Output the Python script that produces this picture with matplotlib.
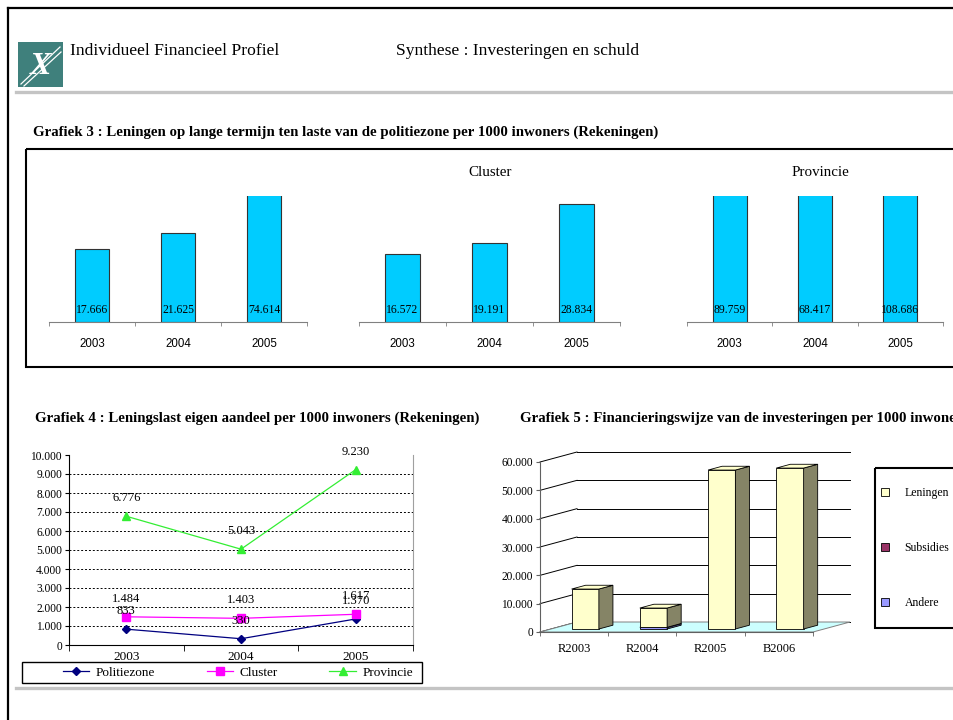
import matplotlib
matplotlib.use("Agg")
import matplotlib.pyplot as plt
from matplotlib.patches import Rectangle, Polygon, Patch
from matplotlib.ticker import FuncFormatter

W, H = 954, 720
SERIF = "Liberation Serif"
SANS = "Liberation Sans"

# --- data ---
years = ["2003", "2004", "2005"]
g3_politiezone = [17666, 21625, 74614]
g3_cluster = [16572, 19191, 28834]
g3_provincie = [89759, 68417, 108686]

g4_politiezone = [833, 330, 1370]
g4_cluster = [1484, 1403, 1617]
g4_provincie = [6776, 5043, 9230]

g5_cats = ["R2003", "R2004", "R2005", "B2006"]
g5_andere = [0, 600, 0, 0]
g5_subsidies = [0, 0, 0, 0]
g5_leningen = [14100, 6800, 56100, 56800]


def nl(v):
    return f"{int(round(v)):,}".replace(",", ".")


def px_rect(l, t, r, b):
    return [l / W, 1 - b / H, (r - l) / W, (b - t) / H]


fig = plt.figure(figsize=(W / 100, H / 100), dpi=100)
fig.patch.set_facecolor("white")

# background layer in pixel coordinates
bg = fig.add_axes([0, 0, 1, 1])
bg.set_xlim(0, W)
bg.set_ylim(H, 0)
bg.axis("off")

bg.plot([8, W], [8, 8], color="black", lw=1.6)
bg.plot([8, 8], [8, H], color="black", lw=1.6)
bg.plot([16, W], [92, 92], color="#c4c4c4", lw=2.4)
bg.plot([16, W], [688, 688], color="#c4c4c4", lw=2.4)

# logo
bg.add_patch(Rectangle((18, 42), 45, 45, fc="#3f807c", ec="none"))
bg.plot([21, 60], [84, 47], color="white", lw=0.9)
bg.plot([24, 61], [86, 52], color="white", lw=0.9)
bg.text(41, 67, "X", color="white", fontsize=23, fontweight="bold",
        family=SERIF, ha="center", va="center", style="italic")

bg.text(70, 51, "Individueel Financieel Profiel", family=SERIF, fontsize=12.6,
        ha="left", va="center")
bg.text(396, 51, "Synthese : Investeringen en schuld", family=SERIF, fontsize=12.6,
        ha="left", va="center")

bg.text(33, 132, "Grafiek 3 : Leningen op lange termijn ten laste van de politiezone per 1000 inwoners (Rekeningen)",
        family=SERIF, fontsize=10.7, fontweight="bold", ha="left", va="center")
bg.text(35, 418, "Grafiek 4 : Leningslast eigen aandeel per 1000 inwoners (Rekeningen)",
        family=SERIF, fontsize=10.7, fontweight="bold", ha="left", va="center")
bg.text(520, 418, "Grafiek 5 : Financieringswijze van de investeringen per 1000 inwoners (Rekeningen)",
        family=SERIF, fontsize=10.7, fontweight="bold", ha="left", va="center")

bg.add_patch(Rectangle((26, 149), 960 - 26, 367 - 149, fc="none", ec="black", lw=1.5))
bg.add_patch(Rectangle((22, 662), 400, 21, fc="none", ec="black", lw=1.0))
bg.add_patch(Rectangle((875, 468), 120, 160, fc="none", ec="black", lw=1.5))

bg.text(490, 173, "Cluster", family=SERIF, fontsize=10.8, ha="center", va="center")
bg.text(820, 173, "Provincie", family=SERIF, fontsize=10.8, ha="center", va="center")

# --- Grafiek 3 ---
panels = [((49, 307), g3_politiezone), ((359, 620), g3_cluster), ((687, 943), g3_provincie)]
for (l, r), vals in panels:
    ax = fig.add_axes(px_rect(l, 196, r, 322))
    ax.set_xlim(-0.5, 2.5)
    ax.set_ylim(0, 30700)
    xs = range(len(vals))
    ax.bar(xs, vals, width=0.4, color="#00ccff", edgecolor="#333333", lw=0.8)
    for x, v in zip(xs, vals):
        ax.annotate(nl(v), (x, 0), xytext=(0, 8.5), textcoords="offset points",
                    ha="center", va="center", family=SERIF, fontsize=8.4)
    for s in ["top", "right", "left"]:
        ax.spines[s].set_visible(False)
    ax.spines["bottom"].set_color("#808080")
    ax.set_yticks([])
    ax.set_xticks(list(xs), years)
    ax.set_xticks([-0.5, 0.5, 1.5, 2.5], minor=True)
    ax.tick_params(axis="x", which="major", length=0, pad=11.5, labelsize=8.3)
    ax.tick_params(axis="x", which="minor", length=3, color="#808080", direction="out")
    for t in ax.get_xticklabels():
        t.set_family(SANS)
    ax.patch.set_alpha(0)

# --- Grafiek 4 ---
ax4 = fig.add_axes(px_rect(69, 455, 413, 645))
ax4.set_xlim(-0.5, 2.5)
ax4.set_ylim(0, 10000)
xs = range(len(years))
series = [
    ("Politiezone", g4_politiezone, "#000080", "D", 4),
    ("Cluster", g4_cluster, "#ff00ff", "s", 5.5),
    ("Provincie", g4_provincie, "#33ee33", "^", 5.5),
]
for name, vals, col, mk, ms in series:
    ax4.plot(xs, vals, color=col, marker=mk, markersize=ms, lw=0.9, label=name)
    for x, v in zip(xs, vals):
        ax4.annotate(nl(v), (x, v), xytext=(0, 13), textcoords="offset points",
                     ha="center", va="center", family=SERIF, fontsize=9)
ax4.set_yticks(range(0, 10001, 1000))
ax4.yaxis.set_major_formatter(FuncFormatter(lambda v, p: nl(v)))
for v in range(1000, 10000, 1000):
    ax4.axhline(v, color="black", lw=0.7, ls=(0, (2, 2)), zorder=0)
ax4.set_xticks(list(xs), years)
ax4.set_xticks([-0.5, 0.5, 1.5, 2.5], minor=True)
ax4.tick_params(axis="x", which="major", length=0, pad=4, labelsize=9.5)
ax4.tick_params(axis="x", which="minor", length=4, direction="out")
ax4.tick_params(axis="y", length=3, direction="out", labelsize=8.3, pad=2)
for t in ax4.get_xticklabels() + ax4.get_yticklabels():
    t.set_family(SERIF)
ax4.spines["top"].set_visible(False)
ax4.spines["right"].set_color("#a0a0a0")
ax4.patch.set_alpha(0)

h, lab = ax4.get_legend_handles_labels()
fig.legend(h, lab, loc="center", bbox_to_anchor=(238 / W, 1 - 672.5 / H), ncol=3,
           frameon=False, prop={"family": SERIF, "size": 9.5}, handlelength=2.0,
           handletextpad=0.5, columnspacing=3.9, borderaxespad=0)

# --- Grafiek 5 (pseudo 3D) ---
ax5 = fig.add_axes(px_rect(540, 462, 813, 632))
ax5.set_xlim(-0.5, 3.5)
ax5.set_ylim(0, 60000)
ax5.patch.set_alpha(0)
dx, dy = 0.542, 3529
fx, fy = 0.3 * dx, 0.3 * dy
bdx, bdy = 0.38 * dx, 0.38 * dy

ax5.add_patch(Polygon([(-0.5, 0), (3.5, 0), (3.5 + dx, dy), (-0.5 + dx, dy)],
                      closed=True, fc="#ccffff", ec="#808080", lw=0.7, clip_on=False, zorder=1))
for v in range(0, 60001, 10000):
    ax5.plot([-0.5 + dx, 3.5 + dx], [v + dy, v + dy], color="black", lw=0.7,
             clip_on=False, zorder=0.5)
    ax5.plot([-0.5, -0.5 + dx], [v, v + dy], color="black", lw=0.7, clip_on=False, zorder=0.5)

stack = [(g5_andere, "#9999ff", "#4d4d80"), (g5_subsidies, "#993366", "#4d1a33"),
         (g5_leningen, "#ffffcc", "#858466")]
bottoms = [0] * len(g5_cats)
for vals, front, side in stack:
    for i, v in enumerate(vals):
        if v <= 0:
            continue
        y0, y1 = bottoms[i], bottoms[i] + v
        xl, xr = i - 0.2 + fx, i + 0.2 + fx
        ax5.add_patch(Rectangle((xl, y0 + fy), 0.4, v, fc=front, ec="black", lw=0.6,
                                clip_on=False, zorder=3))
        ax5.add_patch(Polygon([(xr, y0 + fy), (xr + bdx, y0 + fy + bdy),
                               (xr + bdx, y1 + fy + bdy), (xr, y1 + fy)],
                              closed=True, fc=side, ec="black", lw=0.6, clip_on=False, zorder=3))
        ax5.add_patch(Polygon([(xl, y1 + fy), (xl + bdx, y1 + fy + bdy),
                               (xr + bdx, y1 + fy + bdy), (xr, y1 + fy)],
                              closed=True, fc=front, ec="black", lw=0.6, clip_on=False, zorder=3))
        bottoms[i] = y1

ax5.set_yticks(range(0, 60001, 10000))
ax5.yaxis.set_major_formatter(FuncFormatter(lambda v, p: nl(v)))
ax5.set_xticks(range(len(g5_cats)), g5_cats)
ax5.set_xticks([-0.5, 0.5, 1.5, 2.5, 3.5], minor=True)
ax5.tick_params(axis="x", which="major", length=0, pad=8, labelsize=9)
ax5.tick_params(axis="x", which="minor", length=3, direction="out", color="#606060")
ax5.tick_params(axis="y", length=3, direction="out", labelsize=8.3, pad=2, color="#606060")
for t in ax5.get_xticklabels() + ax5.get_yticklabels():
    t.set_family(SERIF)
ax5.spines["top"].set_visible(False)
ax5.spines["right"].set_visible(False)
ax5.spines["left"].set_color("#606060")
ax5.spines["bottom"].set_color("#606060")

leg_handles = [Patch(fc="#ffffcc", ec="black", lw=0.6), Patch(fc="#993366", ec="black", lw=0.6),
               Patch(fc="#9999ff", ec="black", lw=0.6)]
fig.legend(leg_handles, ["Leningen", "Subsidies", "Andere"], loc="upper left",
           bbox_to_anchor=(881 / W, 1 - 487 / H), frameon=False,
           prop={"family": SERIF, "size": 8.5}, handlelength=0.7, handleheight=0.7,
           labelspacing=3.65, handletextpad=1.3, borderaxespad=0, borderpad=0)

fig.savefig("out.png", dpi=100)
